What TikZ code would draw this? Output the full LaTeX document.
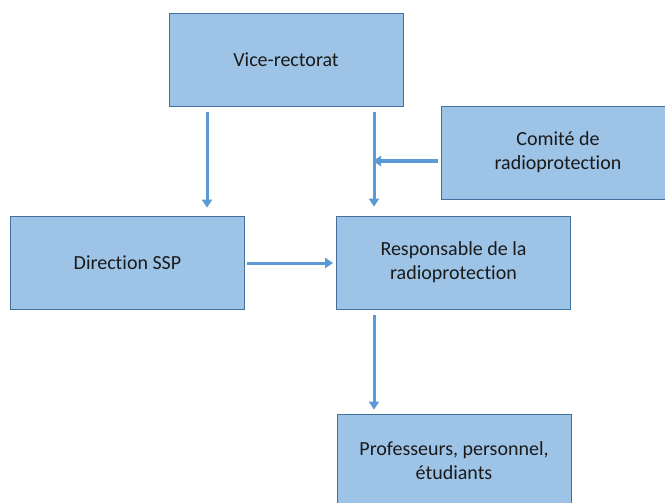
\documentclass[tikz,border=0pt]{standalone}
\usepackage{fontspec}
\setmainfont{Carlito}[Ligatures=NoCommon]
\usetikzlibrary{arrows.meta}
\definecolor{boxfill}{HTML}{9DC3E6}
\definecolor{boxline}{HTML}{41719C}
\definecolor{arrowc}{HTML}{5B9BD5}
\definecolor{txt}{HTML}{1A1A1A}
\begin{document}
\begin{tikzpicture}[x=1pt,y=-1pt,
 box/.style={draw=boxline, line width=0.8pt, fill=boxfill, minimum width=234pt, minimum height=93pt, align=center, font=\fontsize{20}{24}\selectfont, text=txt, inner sep=0pt},
 arr/.style={draw=arrowc, line width=3pt, -{Triangle[width=10pt,length=8pt]}}]
\useasboundingbox (0,0) rectangle (665,503);
\clip (0,0) rectangle (665,503);
\node[box] (vr) at (286,59.5) {Vice-rectorat};
\node[box] (com) at (558,152.5) {Comité de\\radioprotection};
\node[box] (dir) at (127.5,262.5) {Direction SSP};
\node[box] (resp) at (453.5,262.5) {Responsable de la\\radioprotection};
\node[box] (prof) at (454,460.5) {Professeurs, personnel,\\étudiants};
\coordinate (xa) at (207,0);
\coordinate (xb) at (374,0);
\coordinate (ya) at (0,161);
\coordinate (yb) at (0,263);
\draw[arr, shorten <=6pt, shorten >=8pt] (vr.south -| xa) -- (dir.north -| xa);
\draw[arr, shorten <=6pt, shorten >=9pt] (vr.south -| xb) -- (resp.north -| xb);
\draw[arr, shorten <=3pt, shorten >=-1pt] (com.west |- ya) -- (xb |- ya);
\draw[arr, shorten <=2pt, shorten >=3pt] (dir.east |- yb) -- (resp.west |- yb);
\draw[arr, shorten <=6pt, shorten >=4pt] (resp.south -| xb) -- (prof.north -| xb);
\end{tikzpicture}
\end{document}
